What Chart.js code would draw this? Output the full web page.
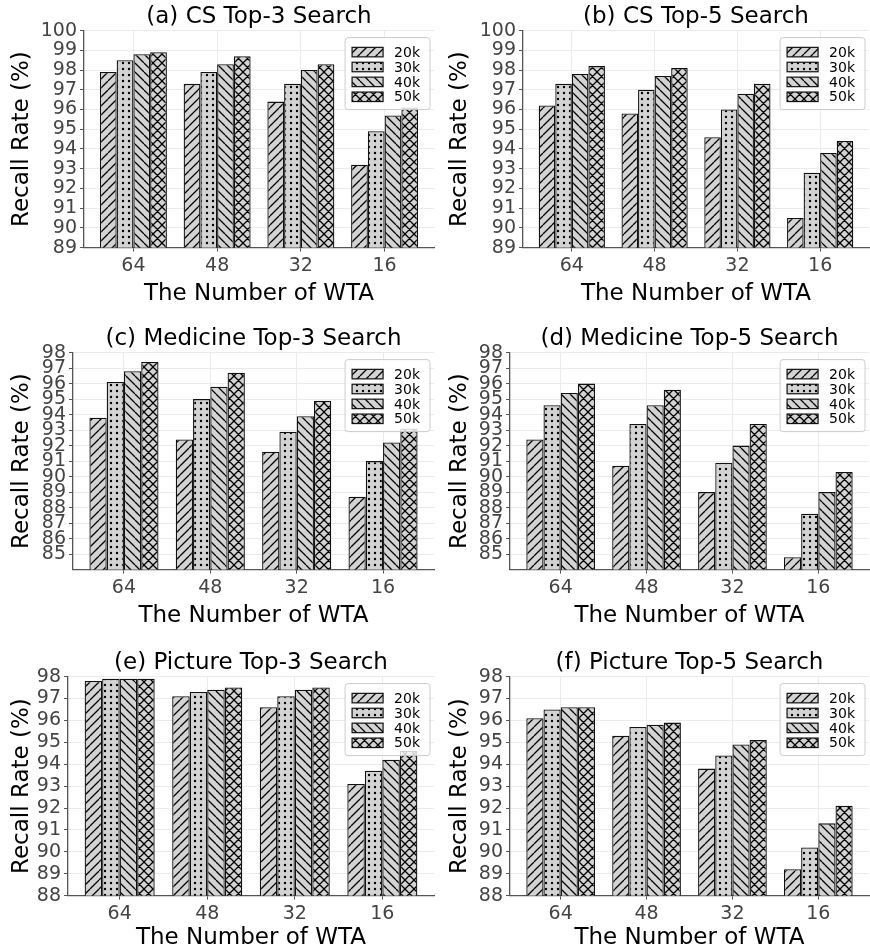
<!DOCTYPE html>
<html>
<head>
<meta charset="utf-8">
<script src="https://cdn.jsdelivr.net/npm/chart.js@4.4.1/dist/chart.umd.min.js"></script>
<style>
  html, body { margin: 0; padding: 0; background: #fff; }
  #wrap { position: relative; width: 870px; height: 952px; overflow: hidden; }
  .cell { position: absolute; }
</style>
</head>
<body>
<div id="wrap"></div>
<script>
// x categories and legend labels
const wtaLabels = ['64', '48', '32', '16'];
const sizeLabels = ['20k', '30k', '40k', '50k'];

// one row per size (20k, 30k, 40k, 50k), one column per WTA count
const csTop3 = [
    [97.9, 97.3, 96.4, 93.2],
    [98.5, 97.9, 97.3, 94.9],
    [98.8, 98.3, 98.0, 95.7],
    [98.9, 98.7, 98.3, 96.1]
];
const csTop5 = [
    [96.2, 95.8, 94.6, 90.5],
    [97.3, 97.0, 96.0, 92.8],
    [97.8, 97.7, 96.8, 93.8],
    [98.2, 98.1, 97.3, 94.4]
];
const medTop3 = [
    [93.8, 92.4, 91.6, 88.7],
    [96.1, 95.0, 92.9, 91.0],
    [96.8, 95.8, 93.9, 92.2],
    [97.4, 96.7, 94.9, 93.1]
];
const medTop5 = [
    [92.4, 90.7, 89.0, 84.8],
    [94.6, 93.4, 90.9, 87.6],
    [95.4, 94.6, 92.0, 89.0],
    [96.0, 95.6, 93.4, 90.3]
];
const picTop3 = [
    [97.8, 97.1, 96.6, 93.1],
    [97.9, 97.3, 97.1, 93.7],
    [97.9, 97.4, 97.4, 94.2],
    [97.9, 97.5, 97.5, 94.6]
];
const picTop5 = [
    [96.1, 95.3, 93.8, 89.2],
    [96.5, 95.7, 94.4, 90.2],
    [96.6, 95.8, 94.9, 91.3],
    [96.6, 95.9, 95.1, 92.1]
];

const panels = [
    { title: '(a) CS Top-3 Search', series: csTop3, yMin: 89, yMax: 100, yFrom: 89, col: 0, row: 0, plotLeft: 84 },
    { title: '(b) CS Top-5 Search', series: csTop5, yMin: 89, yMax: 100, yFrom: 89, col: 1, row: 0, plotLeft: 88 },
    { title: '(c) Medicine Top-3 Search', series: medTop3, yMin: 84, yMax: 98, yFrom: 85, col: 0, row: 1, plotLeft: 73 },
    { title: '(d) Medicine Top-5 Search', series: medTop5, yMin: 84, yMax: 98, yFrom: 85, col: 1, row: 1, plotLeft: 75 },
    { title: '(e) Picture Top-3 Search', series: picTop3, yMin: 88, yMax: 98, yFrom: 88, col: 0, row: 2, plotLeft: 68 },
    { title: '(f) Picture Top-5 Search', series: picTop5, yMin: 88, yMax: 98, yFrom: 88, col: 1, row: 2, plotLeft: 75 }
];

const rowTop = [0, 322, 646];
const rowHeight = [322, 322, 306];
const FONT = "'DejaVu Sans', sans-serif";
Chart.defaults.font.family = FONT;

// matplotlib-like hatches: '//', '..', '\\', 'xx'
function makeHatch(kind) {
    const s = kind === 'dots' ? 6 : 9;
    const c = document.createElement('canvas');
    c.width = s; c.height = s;
    const g = c.getContext('2d');
    g.fillStyle = '#d3d3d3';
    g.fillRect(0, 0, s, s);
    g.strokeStyle = '#000';
    g.fillStyle = '#000';
    g.lineWidth = 1.3;
    if (kind === 'dots') {
        g.beginPath();
        g.arc(s / 2, s / 2, 1.2, 0, Math.PI * 2);
        g.fill();
    } else {
        g.beginPath();
        for (const k of [-s, 0, s]) {
            if (kind === 'fwd' || kind === 'cross') {
                g.moveTo(k, s); g.lineTo(k + s, 0);
            }
            if (kind === 'back' || kind === 'cross') {
                g.moveTo(k, 0); g.lineTo(k + s, s);
            }
        }
        g.stroke();
    }
    return g.createPattern(c, 'repeat');
}

const hatchKinds = ['fwd', 'dots', 'back', 'cross'];

// legend drawn inside the plot, on top of the bars
const insideLegend = {
    id: 'insideLegend',
    afterDatasetsDraw(chart) {
        const { ctx, chartArea } = chart;
        const sets = chart.data.datasets;
        ctx.save();
        ctx.font = '14px ' + FONT;
        const textW = Math.max(...sets.map(d => ctx.measureText(d.label).width));
        const swW = 31, swH = 9.5, rowH = 14.9;
        const w = 7 + swW + 11 + textW + 10;
        const h = 72;
        const x = chartArea.right - 4 - w;
        const y = chartArea.top + 7;
        ctx.beginPath();
        ctx.roundRect(x, y, w, h, 3);
        ctx.fillStyle = 'rgba(255,255,255,0.8)';
        ctx.fill();
        ctx.strokeStyle = '#cccccc';
        ctx.lineWidth = 1;
        ctx.stroke();
        sets.forEach((d, i) => {
            const cy = y + 14.5 + i * rowH;
            ctx.fillStyle = d.backgroundColor;
            ctx.fillRect(x + 7, cy - swH / 2, swW, swH);
            ctx.strokeStyle = '#111';
            ctx.lineWidth = 1.2;
            ctx.strokeRect(x + 7, cy - swH / 2, swW, swH);
            ctx.fillStyle = '#000';
            ctx.textBaseline = 'middle';
            ctx.textAlign = 'left';
            ctx.fillText(d.label, x + 7 + swW + 11, cy + 1);
        });
        ctx.restore();
    }
};

const wrap = document.getElementById('wrap');

panels.forEach(p => {
    const cell = document.createElement('div');
    cell.className = 'cell';
    cell.style.left = (p.col * 435) + 'px';
    cell.style.top = rowTop[p.row] + 'px';
    const canvas = document.createElement('canvas');
    canvas.width = 435;
    canvas.height = rowHeight[p.row];
    cell.appendChild(canvas);
    wrap.appendChild(cell);

    const padLeft = p.col === 0 ? 8 : 11;
    const padBottom = p.row === 2 ? 0 : 14;

    new Chart(canvas, {
        type: 'bar',
        data: {
            datasets: sizeLabels.map((label, i) => ({
                label: label,
                data: p.series[i].map((v, j) => ({ x: j, y: v })),
                backgroundColor: makeHatch(hatchKinds[i]),
                borderColor: '#111',
                borderWidth: 1.3,
                borderSkipped: false,
                categoryPercentage: 0.8,
                barPercentage: 1.0
            }))
        },
        options: {
            responsive: false,
            animation: false,
            layout: { padding: { left: padLeft, right: 1, top: 0, bottom: padBottom } },
            plugins: {
                legend: { display: false },
                tooltip: { enabled: false },
                title: {
                    display: true,
                    fullSize: false,
                    text: p.title,
                    color: '#000',
                    font: { size: 23, weight: 'normal' },
                    padding: { top: 3, bottom: 0 }
                }
            },
            scales: {
                x: {
                    type: 'linear',
                    min: -0.59,
                    max: 3.59,
                    offset: false,
                    afterBuildTicks: s => { s.ticks = wtaLabels.map((_, i) => ({ value: i })); },
                    ticks: {
                        callback: v => wtaLabels[v],
                        color: '#444',
                        font: { size: 19 },
                        padding: 3,
                        autoSkip: false,
                        maxRotation: 0
                    },
                    grid: { color: '#ebebeb', tickColor: '#555', tickLength: 4, offset: false },
                    border: { color: '#555', width: 1.3 },
                    title: {
                        display: true,
                        text: 'The Number of WTA',
                        color: '#000',
                        font: { size: 23 },
                        padding: { top: p.row === 2 ? -4 : 0, bottom: 0 }
                    }
                },
                y: {
                    min: p.yMin,
                    max: p.yMax,
                    afterBuildTicks: s => {
                        const t = [];
                        for (let v = p.yFrom; v <= p.yMax; v++) t.push({ value: v });
                        s.ticks = t;
                    },
                    afterFit: s => { s.width = p.plotLeft - padLeft; },
                    ticks: {
                        color: '#444',
                        font: { size: 19 },
                        padding: 3,
                        autoSkip: false
                    },
                    grid: { color: '#ebebeb', tickColor: '#555', tickLength: 4 },
                    border: { color: '#555', width: 1.3 },
                    title: {
                        display: true,
                        text: 'Recall Rate (%)',
                        color: '#000',
                        font: { size: 23 },
                        padding: { top: 0, bottom: 0 }
                    }
                }
            }
        },
        plugins: [insideLegend]
    });
});
</script>
</body>
</html>
